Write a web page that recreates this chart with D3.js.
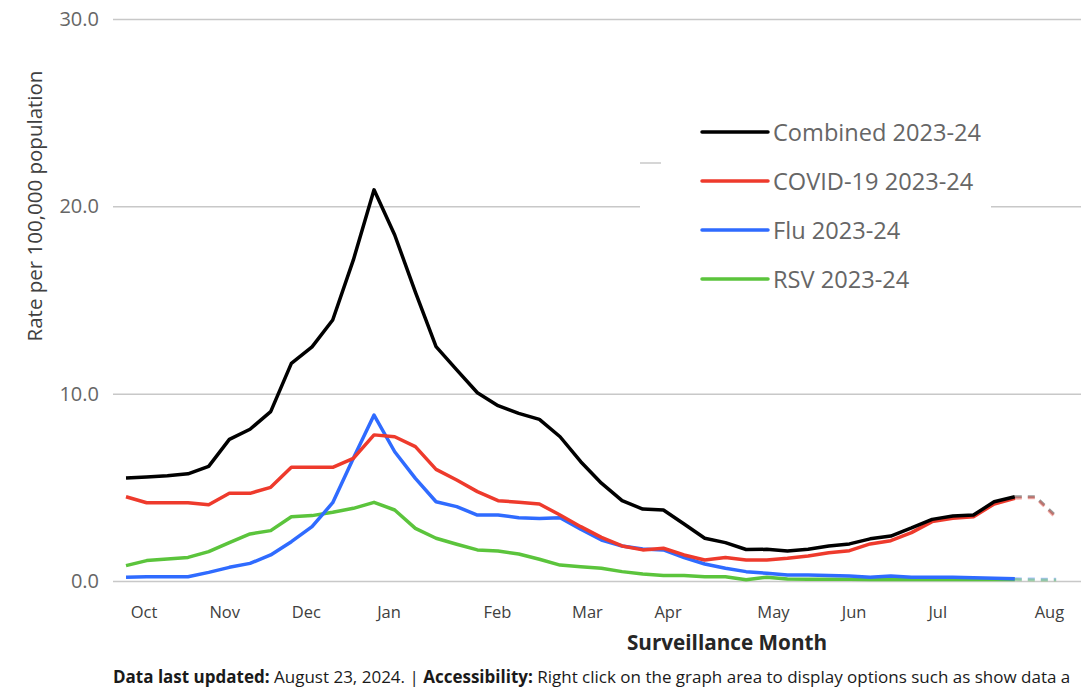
<!DOCTYPE html>
<html>
<head>
<meta charset="utf-8">
<script src="https://cdn.jsdelivr.net/npm/d3@7"></script>
<style>
  html, body { margin: 0; padding: 0; background: #fff; }
  svg { display: block; font-family: "Open Sans", "Noto Sans", sans-serif; }
</style>
</head>
<body>
<svg id="chart" width="1081" height="688"></svg>
<script>
// ---- data (weekly rates per 100,000; last two weeks are provisional/dashed) ----
const combined = [5.5, 5.55, 5.62, 5.72, 6.12, 7.56, 8.1, 9.04, 11.62, 12.5, 13.93, 17.14, 20.88, 18.47, 15.42, 12.51, 11.27, 10.05, 9.36, 8.95, 8.63, 7.7, 6.37, 5.22, 4.29, 3.84, 3.79, 3.04, 2.28, 2.05, 1.68, 1.69, 1.6, 1.69, 1.87, 1.98, 2.25, 2.4, 2.83, 3.29, 3.47, 3.52, 4.23, 4.5, 4.5, 3.45];
const covid    = [4.5, 4.18, 4.18, 4.18, 4.07, 4.68, 4.68, 5.0, 6.07, 6.07, 6.07, 6.55, 7.8, 7.7, 7.17, 5.96, 5.39, 4.77, 4.29, 4.2, 4.11, 3.52, 2.9, 2.33, 1.87, 1.66, 1.75, 1.39, 1.12, 1.25, 1.12, 1.12, 1.21, 1.33, 1.51, 1.62, 1.98, 2.15, 2.58, 3.17, 3.35, 3.43, 4.11, 4.42, 4.45, 3.36];
const flu      = [0.2, 0.23, 0.23, 0.23, 0.46, 0.73, 0.94, 1.39, 2.1, 2.9, 4.18, 6.55, 8.86, 6.9, 5.48, 4.23, 3.97, 3.52, 3.52, 3.38, 3.33, 3.38, 2.76, 2.19, 1.87, 1.71, 1.66, 1.25, 0.91, 0.68, 0.5, 0.41, 0.32, 0.32, 0.3, 0.27, 0.2, 0.27, 0.2, 0.2, 0.2, 0.18, 0.15, 0.12, 0.1, 0.1];
const rsv      = [0.82, 1.09, 1.17, 1.26, 1.57, 2.05, 2.51, 2.69, 3.43, 3.49, 3.67, 3.88, 4.2, 3.79, 2.81, 2.28, 1.96, 1.66, 1.6, 1.44, 1.16, 0.85, 0.76, 0.68, 0.5, 0.37, 0.3, 0.3, 0.23, 0.23, 0.07, 0.2, 0.11, 0.1, 0.1, 0.1, 0.08, 0.08, 0.08, 0.08, 0.08, 0.08, 0.08, 0.08, 0.05, 0.05];
const provisionalFrom = 43; // week index where the dashed (provisional) part starts

const seriesNames  = ["Combined 2023-24", "COVID-19 2023-24", "Flu 2023-24", "RSV 2023-24"];
const seriesColors = ["#000000", "#ee3a2c", "#2f6bff", "#5bc43c"];

const monthLabels    = ["Oct", "Nov", "Dec", "Jan", "Feb", "Mar", "Apr", "May", "Jun", "Jul", "Aug"];
const monthPositions = [0.85, 4.75, 8.7, 12.7, 17.95, 22.3, 26.2, 31.3, 35.2, 39.25, 44.65]; // in week-index units
const yTicks = [0, 10, 20, 30];

// ---- layout ----
const svg = d3.select("#chart");
const plotLeft = 113, plotRight = 1081, plotTop = 19, plotBottom = 581;
const firstX = 126, weekStep = 20.67;
const nWeeks = combined.length;

const x = d3.scaleLinear().domain([0, nWeeks - 1]).range([firstX, firstX + weekStep * (nWeeks - 1)]);
const y = d3.scaleLinear().domain([0, 30]).range([plotBottom, plotTop]);

// gridlines + y labels
const yAxis = d3.axisLeft(y).tickValues(yTicks).tickFormat(d3.format(".1f"))
  .tickSize(-(plotRight - plotLeft)).tickPadding(14);
const gy = svg.append("g").attr("transform", `translate(${plotLeft},0)`).call(yAxis);
gy.select(".domain").remove();
gy.selectAll(".tick line").attr("stroke", "#c8c8c8").attr("stroke-width", 1.5);
gy.selectAll(".tick text").attr("fill", "#666").style("font-size", "20px")
  .style("font-family", "'Open Sans', sans-serif");

// x labels
const xAxis = d3.axisBottom(x).tickValues(monthPositions)
  .tickFormat((d, i) => monthLabels[i]).tickSize(0).tickPadding(25);
const gx = svg.append("g").attr("transform", `translate(0,${plotBottom})`).call(xAxis);
gx.select(".domain").remove();
gx.selectAll(".tick text").attr("fill", "#404040").style("font-size", "16.5px")
  .style("font-family", "'Open Sans', sans-serif");

// legend background (covers gridline)
svg.append("rect").attr("x", 640).attr("y", 100).attr("width", 351).attr("height", 200).attr("fill", "#fff");
svg.append("line").attr("x1", 640).attr("x2", 661).attr("y1", 163).attr("y2", 163)
  .attr("stroke", "#c8c8c8").attr("stroke-width", 1.5);

// lines
const allSeries = [combined, covid, flu, rsv];
const line = d3.line().x(d => x(d.i)).y(d => y(d.v));
const drawOrder = [3, 2, 1, 0];
// dashed provisional parts
[0, 1, 2, 3].forEach(k => {
  const pts = allSeries[k].map((v, i) => ({i, v})).filter(p => p.i >= provisionalFrom);
  svg.append("path").datum(pts).attr("d", line)
    .attr("fill", "none").attr("stroke", seriesColors[k]).attr("stroke-opacity", 0.4)
    .attr("stroke-width", 3).attr("stroke-dasharray", "7,6");
});
drawOrder.forEach(k => {
  const pts = allSeries[k].map((v, i) => ({i, v})).filter(p => p.i <= provisionalFrom);
  svg.append("path").datum(pts).attr("d", line)
    .attr("fill", "none").attr("stroke", seriesColors[k])
    .attr("stroke-width", 3.5).attr("stroke-linejoin", "round");
});

// legend
const legend = svg.append("g");
seriesNames.forEach((name, k) => {
  const ly = 132 + k * 49;
  legend.append("line").attr("x1", 702).attr("x2", 768).attr("y1", ly).attr("y2", ly)
    .attr("stroke", seriesColors[k]).attr("stroke-width", 3.5).attr("stroke-linecap", "round");
  legend.append("text").attr("x", 773).attr("y", ly + 8.5).text(name)
    .attr("fill", "#666").style("font-size", "23.6px");
});

// axis titles
svg.append("text").attr("transform", "translate(42,206) rotate(-90)")
  .attr("text-anchor", "middle").attr("fill", "#404040").style("font-size", "20.5px")
  .text("Rate per 100,000 population");
svg.append("text").attr("x", 727).attr("y", 650).attr("text-anchor", "middle")
  .attr("fill", "#262626").style("font-size", "20.7px").style("font-weight", "bold")
  .text("Surveillance Month");

// footer (as visible in the reference, which is clipped at the right edge)
const foot = svg.append("text").attr("x", 113).attr("y", 683).attr("fill", "#1a1a1a").style("font-size", "17px");
foot.append("tspan").style("font-weight", "bold").text("Data last updated:");
foot.append("tspan").text(" August 23, 2024. | ");
foot.append("tspan").style("font-weight", "bold").text("Accessibility:");
foot.append("tspan").text(" Right click on the graph area to display options such as show data a");
</script>
</body>
</html>
